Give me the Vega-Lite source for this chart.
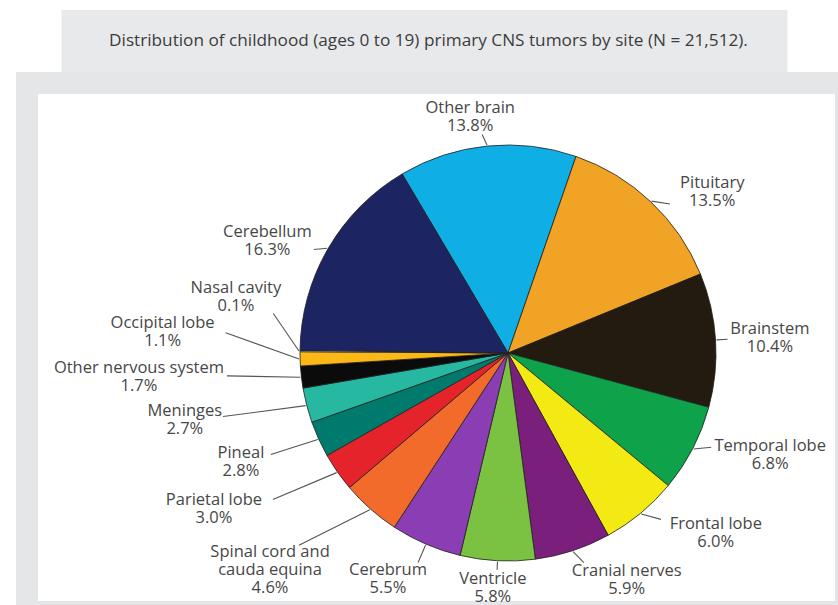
{
  "$schema": "https://vega.github.io/schema/vega-lite/v6.json",
  "background": "white",
  "padding": {"left": 16, "top": 10, "right": 0, "bottom": 0},
  "spacing": 0,
  "center": true,
  "config": {"view": {"stroke": null}, "font": "Open Sans"},
  "datasets": {
    "sites": [
      {"site": "Other brain", "pct": 13.8},
      {"site": "Pituitary", "pct": 13.5},
      {"site": "Brainstem", "pct": 10.4},
      {"site": "Temporal lobe", "pct": 6.8},
      {"site": "Frontal lobe", "pct": 6.0},
      {"site": "Cranial nerves", "pct": 5.9},
      {"site": "Ventricle", "pct": 5.8},
      {"site": "Cerebrum", "pct": 5.5},
      {"site": "Spinal cord and cauda equina", "pct": 4.6},
      {"site": "Parietal lobe", "pct": 3.0},
      {"site": "Pineal", "pct": 2.8},
      {"site": "Meninges", "pct": 2.7},
      {"site": "Other nervous system", "pct": 1.7},
      {"site": "Occipital lobe", "pct": 1.1},
      {"site": "Nasal cavity", "pct": 0.1},
      {"site": "Cerebellum", "pct": 16.3}
    ]
  },
  "vconcat": [
    {
      "width": 726,
      "height": 62,
      "view": {"fill": "#e8e9eb", "stroke": null},
      "data": {"values": [{"caption": "Distribution of childhood (ages 0 to 19) primary CNS tumors by site (N = 21,512)."}]},
      "mark": {"type": "text", "font": "Open Sans", "fontSize": 17.2, "color": "#3c3c3c", "align": "center", "baseline": "middle", "dx": 4},
      "encoding": {
        "y": {"datum": 0, "type": "quantitative", "scale": {"domain": [-1, 1]}, "axis": {"orient": "right", "labels": false, "ticks": false, "domain": false, "grid": false, "title": null, "minExtent": 35, "maxExtent": 35}},
        "text": {"field": "caption"}
      }
    },
    {
      "width": 819,
      "height": 529,
      "view": {"fill": "white", "stroke": "#e5e6e8", "strokeWidth": 22},
      "data": {"name": "sites"},
      "transform": [
        {"window": [{"op": "sum", "field": "pct", "as": "cum"}], "frame": [null, 0]},
        {"calculate": "-0.534 + 2*PI*(datum.cum - datum.pct)/100", "as": "a0"},
        {"calculate": "-0.534 + 2*PI*datum.cum/100", "as": "a1"},
        {"calculate": "(datum.a0 + datum.a1)/2", "as": "am"},
        {"calculate": "datum.site === 'Pituitary' ? 4 : datum.site === 'Temporal lobe' ? -2.5 : datum.site === 'Frontal lobe' ? -3 : datum.site === 'Cranial nerves' ? -1.7 : datum.site === 'Spinal cord and cauda equina' ? 6 : datum.site === 'Parietal lobe' ? 3 : datum.site === 'Pineal' ? 1.3 : datum.site === 'Meninges' ? 2 : datum.site === 'Other nervous system' ? 2 : datum.site === 'Occipital lobe' ? 5.7 : datum.site === 'Nasal cavity' ? 9 : datum.site === 'Cerebellum' ? -2 : datum.site === 'Other brain' ? -1 : 0", "as": "shiftDeg"},
        {"calculate": "datum.site === 'Frontal lobe' ? 18 : datum.site === 'Cerebrum' ? 20 : datum.site === 'Spinal cord and cauda equina' ? 76 : datum.site === 'Parietal lobe' ? 69 : datum.site === 'Pineal' ? 50 : datum.site === 'Meninges' ? 84 : datum.site === 'Other nervous system' ? 74 : datum.site === 'Occipital lobe' ? 75 : datum.site === 'Nasal cavity' ? 30 : datum.site === 'Ventricle' ? 9 : datum.site === 'Pituitary' ? 12 : datum.site === 'Temporal lobe' ? 16 : datum.site === 'Cranial nerves' ? 15 : 12", "as": "lead"},
        {"calculate": "datum.am + datum.shiftDeg*PI/180", "as": "ae"},
        {"calculate": "datum.ae + (datum.site === 'Spinal cord and cauda equina' ? -35 : datum.site === 'Nasal cavity' ? 60.5 : 0)*PI/180", "as": "ad"},
        {"calculate": "209*sin(datum.am)", "as": "sx"},
        {"calculate": "209*cos(datum.am)", "as": "sy"},
        {"calculate": "(208 + datum.lead)*sin(datum.ae)", "as": "ex"},
        {"calculate": "(208 + datum.lead)*cos(datum.ae)", "as": "ey"},
        {"calculate": "indexof(datum.site, ' and ') >= 0 ? 3 : 2", "as": "nLines"},
        {"calculate": "(datum.nLines > 2 ? 15 : length(datum.site)) * 8.3", "as": "textW"},
        {"calculate": "datum.ex + (datum.textW/2 + 5) * clamp(2*sin(datum.ad), -1, 1)", "as": "lx"},
        {"calculate": "datum.ey + (datum.nLines*18/2 + 3) * 0.85 * cos(datum.ad) + (datum.nLines - 1)*18/2", "as": "ly"},
        {"calculate": "replace(datum.site, ' and ', ' and\\n') + '\\n' + format(datum.pct, '.1f') + '%'", "as": "labelText"}
      ],
      "layer": [
        {
          "mark": {"type": "arc", "radius": 208, "stroke": "#1f1f1f", "strokeWidth": 0.8},
          "encoding": {
            "x": {"datum": 0, "type": "quantitative", "scale": {"domain": [-481, 338], "zero": false, "nice": false}, "axis": null},
            "y": {"datum": 0, "type": "quantitative", "scale": {"domain": [-259, 270], "zero": false, "nice": false}, "axis": null},
            "theta": {"field": "a0", "type": "quantitative", "scale": null},
            "theta2": {"field": "a1"},
            "color": {
              "field": "site",
              "type": "nominal",
              "legend": null,
              "scale": {
                "domain": ["Other brain", "Pituitary", "Brainstem", "Temporal lobe", "Frontal lobe", "Cranial nerves", "Ventricle", "Cerebrum", "Spinal cord and cauda equina", "Parietal lobe", "Pineal", "Meninges", "Other nervous system", "Occipital lobe", "Nasal cavity", "Cerebellum"],
                "range": ["#0fafe6", "#f1a325", "#231a10", "#0ea24a", "#f4ea13", "#7b1f7d", "#7cc242", "#8b3db4", "#f26b2b", "#e5232b", "#007a6c", "#26b8a0", "#0b0b0b", "#fbb816", "#e8e8e8", "#1c2461"]
              }
            }
          }
        },
        {
          "mark": {"type": "rule", "color": "#555555", "strokeWidth": 1.1},
          "encoding": {
            "x": {"field": "sx", "type": "quantitative", "scale": {"domain": [-481, 338], "zero": false, "nice": false}, "axis": null},
            "y": {"field": "sy", "type": "quantitative", "scale": {"domain": [-259, 270], "zero": false, "nice": false}, "axis": null},
            "x2": {"field": "ex"},
            "y2": {"field": "ey"}
          }
        },
        {
          "mark": {"type": "text", "align": "center", "baseline": "middle", "lineBreak": "\n", "fontSize": 16.5, "lineHeight": 18, "color": "#474747", "font": "Open Sans"},
          "encoding": {
            "x": {"field": "lx", "type": "quantitative", "scale": {"domain": [-481, 338], "zero": false, "nice": false}, "axis": null},
            "y": {"field": "ly", "type": "quantitative", "scale": {"domain": [-259, 270], "zero": false, "nice": false}, "axis": null},
            "text": {"field": "labelText"}
          }
        }
      ]
    }
  ]
}
